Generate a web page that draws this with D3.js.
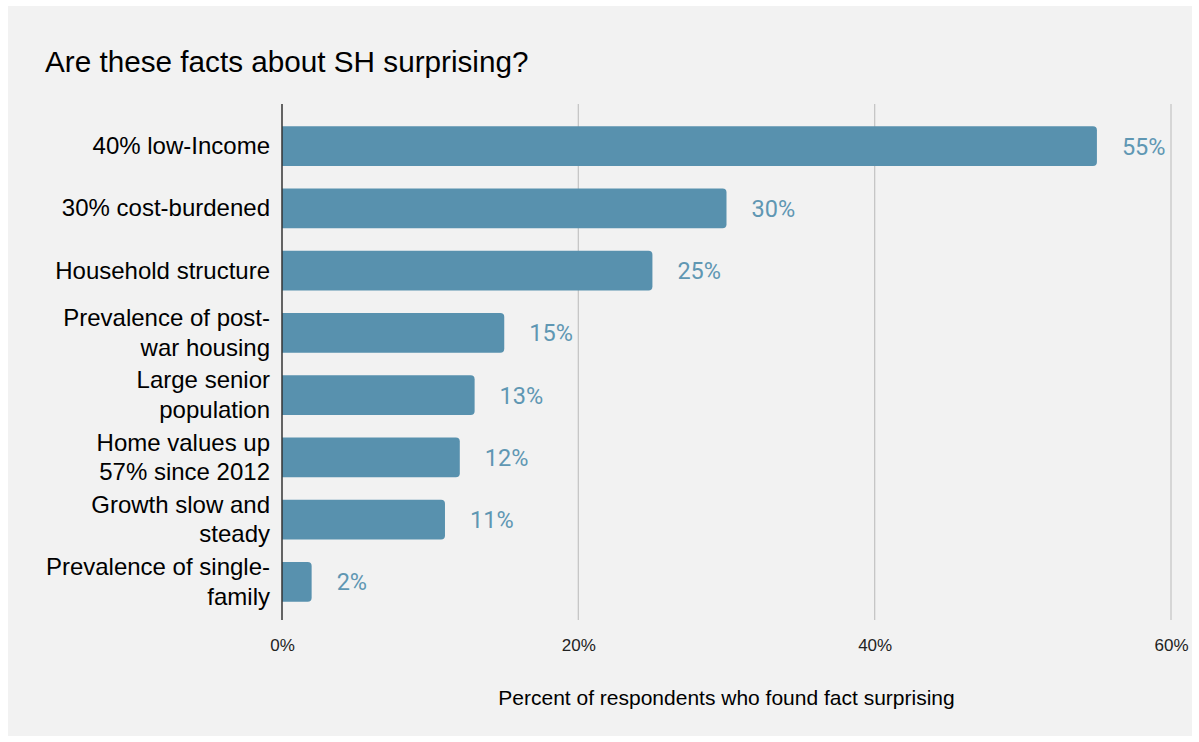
<!DOCTYPE html>
<html>
<head>
<meta charset="utf-8">
<script src="https://cdn.jsdelivr.net/npm/d3@7"></script>
<style>
  html, body { margin: 0; padding: 0; background: #ffffff; }
  svg { display: block; }
</style>
</head>
<body>
<svg id="chart" width="1199" height="742"></svg>
<script>
// Survey results: share of respondents who found each fact surprising
const categories = [
  ["40% low-Income"],
  ["30% cost-burdened"],
  ["Household structure"],
  ["Prevalence of post-", "war housing"],
  ["Large senior", "population"],
  ["Home values up", "57% since 2012"],
  ["Growth slow and", "steady"],
  ["Prevalence of single-", "family"]
];
const values = [55, 30, 25, 15, 13, 12, 11, 2];
const xTicks = [0, 20, 40, 60];

const svg = d3.select("#chart");

// panel background
svg.append("rect")
  .attr("x", 8).attr("y", 6)
  .attr("width", 1184).attr("height", 730)
  .attr("fill", "#f2f2f2");

const plot = { left: 282, right: 1171, top: 104, bottom: 620 };

const x = d3.scaleLinear().domain([0, 60]).range([plot.left, plot.right]);
const y = d3.scaleBand()
  .domain(d3.range(values.length))
  .range([115, 613])
  .paddingInner(0.36)
  .paddingOuter(0.18);

const sans = "Liberation Sans, Arial, sans-serif";

// title
svg.append("text")
  .attr("x", 45).attr("y", 72)
  .attr("font-family", sans)
  .attr("font-size", 29.7)
  .attr("fill", "#000")
  .text("Are these facts about SH surprising?");

// vertical gridlines
svg.append("g")
  .selectAll("line")
  .data(xTicks.filter(t => t > 0))
  .join("line")
  .attr("x1", d => x(d)).attr("x2", d => x(d))
  .attr("y1", plot.top).attr("y2", plot.bottom)
  .attr("stroke", "#c6c6c6")
  .attr("stroke-width", 1.3);

// x axis tick labels
const xAxis = d3.axisBottom(x)
  .tickValues(xTicks)
  .tickFormat(d => d + "%")
  .tickSize(0)
  .tickPadding(0);
const gx = svg.append("g")
  .attr("transform", `translate(0,${plot.bottom})`)
  .call(xAxis);
gx.select(".domain").remove();
gx.selectAll("text")
  .attr("y", 31)
  .attr("dy", 0)
  .attr("font-family", sans)
  .attr("font-size", 17)
  .attr("fill", "#222");

// bars with rounded right end
const r = 4;
function barPath(d, i) {
  const x0 = x(0), x1 = x(d), y0 = y(i), h = y.bandwidth();
  const rr = Math.min(r, (x1 - x0) / 2);
  return `M${x0},${y0}H${x1 - rr}Q${x1},${y0} ${x1},${y0 + rr}` +
         `V${y0 + h - rr}Q${x1},${y0 + h} ${x1 - rr},${y0 + h}H${x0}Z`;
}
svg.append("g")
  .selectAll("path")
  .data(values)
  .join("path")
  .attr("d", barPath)
  .attr("fill", "#5891ae");

// value labels
svg.append("g")
  .selectAll("text")
  .data(values)
  .join("text")
  .attr("x", d => x(d) + 25)
  .attr("y", (d, i) => y(i) + y.bandwidth() / 2 + 8.5)
  .attr("font-family", "Roboto, sans-serif")
  .attr("font-size", 23.5)
  .attr("fill", "#5f97b3")
  .text(d => d + "%");

// category labels (wrapped)
const lab = svg.append("g")
  .selectAll("text")
  .data(categories)
  .join("text")
  .attr("text-anchor", "end")
  .attr("font-family", sans)
  .attr("font-size", 24)
  .attr("fill", "#000");
lab.each(function (lines, i) {
  const cy = y(i) + y.bandwidth() / 2;
  const lh = 29.5;
  const start = cy - (lines.length - 1) * lh / 2 + 8;
  d3.select(this).selectAll("tspan")
    .data(lines)
    .join("tspan")
    .attr("x", 270)
    .attr("y", (l, j) => start + j * lh)
    .text(l => l);
});

// baseline axis
svg.append("line")
  .attr("x1", x(0)).attr("x2", x(0))
  .attr("y1", plot.top).attr("y2", plot.bottom)
  .attr("stroke", "#333")
  .attr("stroke-width", 1.5);

// axis title
svg.append("text")
  .attr("x", (plot.left + plot.right) / 2)
  .attr("y", 705)
  .attr("text-anchor", "middle")
  .attr("font-family", sans)
  .attr("font-size", 21)
  .attr("fill", "#000")
  .text("Percent of respondents who found fact surprising");
</script>
</body>
</html>
